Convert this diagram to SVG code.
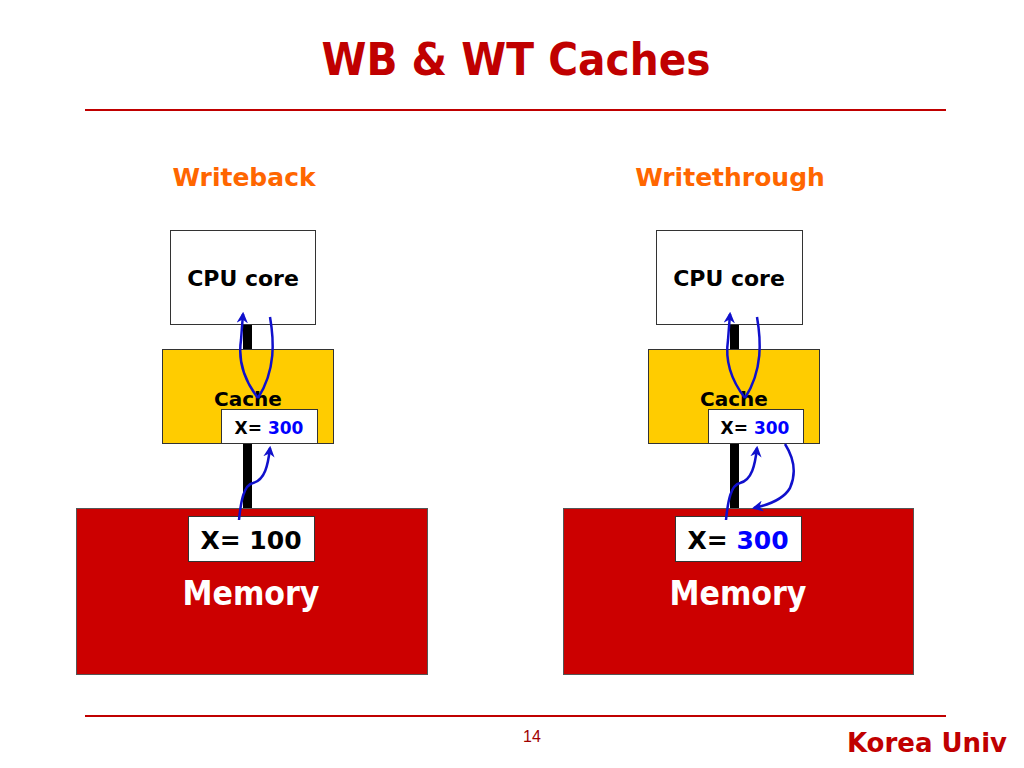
<svg xmlns="http://www.w3.org/2000/svg" width="1024" height="768" viewBox="0 0 1024 768">
<defs>
<marker id="ah" viewBox="0 0 10 10" refX="8" refY="5" markerWidth="4.5" markerHeight="4.5" orient="auto" markerUnits="strokeWidth">
<path d="M0,0 L10,5 L0,10 L3,5 Z" fill="#1010CC"/>
</marker>
<style>
text{font-family:"DejaVu Sans",Verdana,sans-serif;font-weight:bold;text-anchor:middle}
.box{fill:#fff;stroke:#333;stroke-width:1}
.cache{fill:#FFCC00;stroke:#333;stroke-width:1}
.mem{fill:#CC0000;stroke:#555;stroke-width:1}
.bar{fill:#000}
.arr{fill:none;stroke:#1010CC;stroke-width:2.5;marker-end:url(#ah)}
.arrn{fill:none;stroke:#1010CC;stroke-width:2.5}
.hd{fill:#FF6600;font-size:25px}
.blue{fill:#0000FF}
.rule{stroke:#C00000;stroke-width:2}
</style>
</defs>
<rect width="1024" height="768" fill="#fff"/>
<text x="516" y="75" textLength="389" lengthAdjust="spacingAndGlyphs" style="font-size:45px;fill:#C00000">WB &amp; WT Caches</text>
<line class="rule" x1="85" y1="110" x2="946" y2="110"/>
<line class="rule" x1="85" y1="716" x2="946" y2="716"/>
<text x="532" y="742" style="font-size:16px;font-weight:normal;fill:#A00000;font-family:'Liberation Sans',Arial,sans-serif">14</text>
<text x="1007" y="752" style="font-size:26px;fill:#C00000;text-anchor:end">Korea Univ</text>

<text class="hd" x="244" y="186">Writeback</text>
<text class="hd" x="730" y="186">Writethrough</text>

<g id="wb-bars">
<rect class="bar" x="243" y="324" width="9" height="26"/>
<rect class="bar" x="243" y="443" width="9" height="66"/>
</g>
<g id="wt-bars">
<rect class="bar" x="730" y="324" width="9" height="26"/>
<rect class="bar" x="730" y="443" width="9" height="66"/>
</g>

<g id="wb-cpu">
<rect class="box" x="170.5" y="230.5" width="145" height="94"/>
<text x="243" y="286" style="font-size:22px">CPU core</text>
</g>
<g id="wb-cache">
<rect class="cache" x="162.5" y="349.5" width="171" height="94"/>
<text x="248" y="406" style="font-size:20px">Cache</text>
</g>
<g id="wb-cache-x">
<rect class="box" x="221.5" y="409.5" width="96" height="34"/>
<text x="269" y="434" style="font-size:17px">X= <tspan class="blue">300</tspan></text>
</g>
<g id="wb-mem">
<rect class="mem" x="76.5" y="508.5" width="351" height="166"/>
<text x="251" y="605" textLength="137" lengthAdjust="spacingAndGlyphs" style="font-size:33px;fill:#fff">Memory</text>
</g>
<g id="wb-mem-x">
<rect class="box" x="188.5" y="516.5" width="126" height="45"/>
<text x="251" y="549" style="font-size:25px">X= 100</text>
</g>

<g id="wt-cpu">
<rect class="box" x="656.5" y="230.5" width="146" height="94"/>
<text x="729" y="286" style="font-size:22px">CPU core</text>
</g>
<g id="wt-cache">
<rect class="cache" x="648.5" y="349.5" width="171" height="94"/>
<text x="734" y="406" style="font-size:20px">Cache</text>
</g>
<g id="wt-cache-x">
<rect class="box" x="708.5" y="409.5" width="95" height="34"/>
<text x="755" y="434" style="font-size:17px">X= <tspan class="blue">300</tspan></text>
</g>
<g id="wt-mem">
<rect class="mem" x="563.5" y="508.5" width="350" height="166"/>
<text x="738" y="605" textLength="137" lengthAdjust="spacingAndGlyphs" style="font-size:33px;fill:#fff">Memory</text>
</g>
<g id="wt-mem-x">
<rect class="box" x="675.5" y="516.5" width="126" height="45"/>
<text x="738" y="549" style="font-size:25px">X= <tspan class="blue">300</tspan></text>
</g>

<g id="connectors">
<path class="arr" d="M258,398 C244,380 238,360 241,340 L243,314"/>
<path class="arrn" d="M270,317 C274,340 276,370 258,398"/>
<path class="arr" d="M239,520 C241,500 244,485 253,483 C265,480 268,465 270,448"/>

<path class="arr" d="M745,398 C731,380 725,360 728,340 L730,314"/>
<path class="arrn" d="M757,317 C761,340 763,370 745,398"/>
<path class="arr" d="M726,520 C728,500 731,485 740,483 C752,480 755,465 757,448"/>
<path class="arr" d="M785,444 C792,455 798,470 790,488 C783,500 768,505 754,508"/>
</g>
</svg>
